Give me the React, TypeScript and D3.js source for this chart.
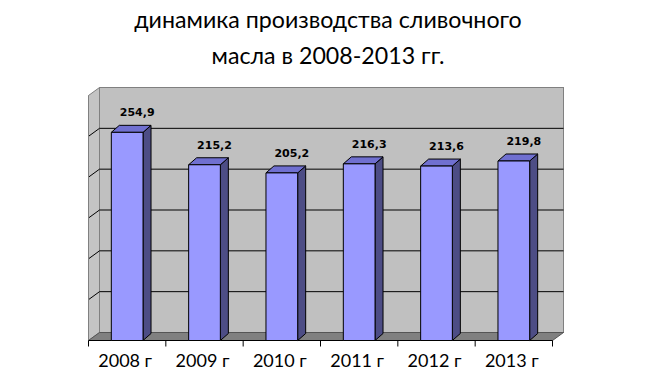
import React from "react";
import * as d3 from "d3";

const categories = ["2008 г", "2009 г", "2010 г", "2011 г", "2012 г", "2013 г"];
const values = [254.9, 215.2, 205.2, 216.3, 213.6, 219.8];
const valueLabels = ["254,9", "215,2", "205,2", "216,3", "213,6", "219,8"];
const yTicks = [0, 50, 100, 150, 200, 250, 300];
const titleLines = ["динамика производства сливочного", "масла в 2008-2013 гг."];

const W = 659;
const H = 391;
const X0 = 88.5;
const X1 = 552.5;
const Y0 = 340.5;
const YTOP = 95.5;
const DX = 11;
const DY = -8;
const BDX = 8;
const BDY = -7;

export default function App() {
  const x = d3.scaleBand<string>().domain(categories).range([X0, X1]).padding(0);
  const y = d3.scaleLinear().domain([0, 300]).range([Y0, YTOP]);
  const bw = x.bandwidth() * 0.41;

  const pts = (arr: number[][]) => arr.map((p) => p.join(",")).join(" ");

  return (
    <svg width={W} height={H} style={{ position: "absolute", left: 0, top: 0 }}>
      <rect width={W} height={H} fill="#ffffff" />
      {titleLines.map((t, i) => (
        <text
          key={i}
          x={328}
          y={i === 0 ? 28 : 64}
          textAnchor="middle"
          fontFamily="Lato"
          fontSize={23.2}
          fill="#000"
        >
          {t}
        </text>
      ))}
      {/* back wall */}
      <rect
        x={X0 + DX}
        y={y(300) + DY}
        width={X1 - X0}
        height={y(0) - y(300)}
        fill="#c0c0c0"
        stroke="#808080"
        strokeWidth={1}
      />
      {/* side wall */}
      <polygon
        points={pts([
          [X0, y(300)],
          [X0 + DX, y(300) + DY],
          [X0 + DX, y(0) + DY],
          [X0, y(0)],
        ])}
        fill="#c4c4c4"
        stroke="#808080"
        strokeWidth={1}
      />
      {/* gridlines */}
      {yTicks.slice(1, -1).map((t) => (
        <g key={t}>
          <line x1={X0 + DX} x2={X1 + DX} y1={y(t) + DY} y2={y(t) + DY} stroke="#000" strokeWidth={1} />
          <line x1={X0} x2={X0 + DX} y1={y(t)} y2={y(t) + DY} stroke="#000" strokeWidth={1} />
        </g>
      ))}
      {/* floor */}
      <polygon
        points={pts([
          [X0, y(0)],
          [X0 + DX, y(0) + DY],
          [X1 + DX, y(0) + DY],
          [X1, y(0)],
        ])}
        fill="#808080"
        stroke="#555"
        strokeWidth={1}
      />
      <line x1={X0} x2={X1} y1={Y0} y2={Y0} stroke="#000" strokeWidth={1} />
      <line x1={X0} x2={X0} y1={y(300)} y2={Y0} stroke="#808080" strokeWidth={1} />
      {/* ticks */}
      {categories.concat([""]).map((c, i) => {
        const xx = X0 + i * x.step();
        return <line key={i} x1={xx} x2={xx} y1={Y0} y2={Y0 + 6} stroke="#000" strokeWidth={1} />;
      })}
      {/* bars */}
      {categories.map((c, i) => {
        const cx = (x(c) as number) + x.bandwidth() / 2;
        const l = cx - bw / 2;
        const r = cx + bw / 2;
        const t = y(values[i]);
        return (
          <g key={c} stroke="#000" strokeWidth={1} strokeLinejoin="round">
            <polygon
              points={pts([
                [r, t],
                [r + BDX, t + BDY],
                [r + BDX, Y0 + BDY],
                [r, Y0],
              ])}
              fill="#4d4d85"
            />
            <polygon
              points={pts([
                [l, t],
                [l + BDX, t + BDY],
                [r + BDX, t + BDY],
                [r, t],
              ])}
              fill="#7070d0"
            />
            <rect x={l} y={t} width={bw} height={Y0 - t} fill="#9999ff" />
            <text
              x={cx + 10}
              y={t - 16}
              textAnchor="middle"
              fontFamily="DejaVu Sans"
              fontWeight="bold"
              fontSize={11}
              stroke="none"
              fill="#000"
            >
              {valueLabels[i]}
            </text>
          </g>
        );
      })}
      {/* category labels */}
      {categories.map((c) => (
        <text
          key={c}
          x={(x(c) as number) + x.bandwidth() / 2 - 2}
          y={366.5}
          textAnchor="middle"
          fontFamily="Lato"
          fontSize={18}
          fill="#000"
        >
          {c}
        </text>
      ))}
    </svg>
  );
}
